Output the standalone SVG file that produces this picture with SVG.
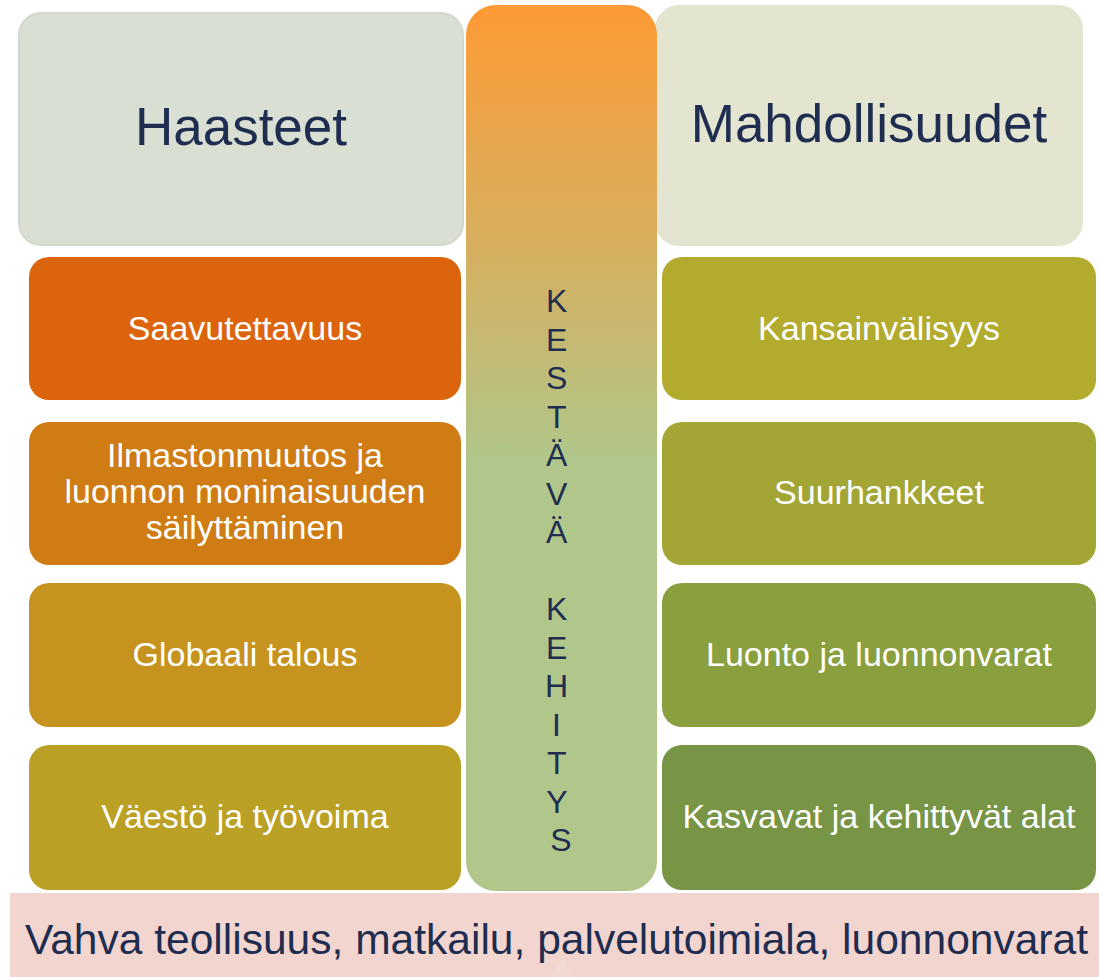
<svg xmlns="http://www.w3.org/2000/svg" width="1099" height="977" viewBox="0 0 1099 977">
<defs>
<linearGradient id="colGrad" gradientUnits="userSpaceOnUse" x1="0" y1="5" x2="0" y2="460">
<stop offset="0" stop-color="#fd9a35"/>
<stop offset="0.5" stop-color="#d9ae5c"/>
<stop offset="1" stop-color="#b0c68a"/>
</linearGradient>
<style>
.hdr{font-family:"Liberation Sans",Arial,sans-serif;font-size:53px;fill:#1f2d50;text-anchor:middle}
.lbl{font-family:"Liberation Sans",Arial,sans-serif;font-size:34px;fill:#ffffff;text-anchor:middle}
.col{font-family:"Liberation Sans",Arial,sans-serif;font-size:32px;fill:#1f2d50;text-anchor:middle}
.bot{font-family:"Liberation Sans",Arial,sans-serif;font-size:42.5px;fill:#1f2d50}
</style>
</defs>
<rect width="1099" height="977" fill="#ffffff"/>
<g id="bottom-bar">
<rect x="10" y="893" width="1089" height="84" fill="#f2d5cf"/>
<polygon points="562,959 550,977 574,977" fill="#ffffff" fill-opacity="0.1"/>
<text class="bot" x="25" y="954" textLength="1063" lengthAdjust="spacingAndGlyphs">Vahva teollisuus, matkailu, palvelutoimiala, luonnonvarat</text>
</g>
<g id="haasteet">
<rect x="19" y="13" width="444" height="232" rx="22" fill="#d9dfd3" stroke="#d2d9cc" stroke-width="2"/>
<text class="hdr" x="241" y="145">Haasteet</text>
</g>
<g id="mahdollisuudet">
<rect x="655" y="5" width="428" height="241" rx="24" fill="#e3e5d1"/>
<text class="hdr" x="869" y="142">Mahdollisuudet</text>
</g>
<g id="kestava-kehitys">
<rect x="466" y="5" width="191" height="886" rx="30" fill="url(#colGrad)"/>
<text class="col" x="561">
<tspan x="561" y="312">K</tspan>
<tspan x="561" y="351">E</tspan>
<tspan x="561" y="389">S</tspan>
<tspan x="561" y="428">T</tspan>
<tspan x="561" y="466">Ä</tspan>
<tspan x="561" y="505">V</tspan>
<tspan x="561" y="543">Ä</tspan>
<tspan x="561" y="620">K</tspan>
<tspan x="561" y="659">E</tspan>
<tspan x="561" y="697">H</tspan>
<tspan x="561" y="736">I</tspan>
<tspan x="561" y="774">T</tspan>
<tspan x="561" y="813">Y</tspan>
<tspan x="561" y="851">S</tspan>
</text>
</g>
<g id="saavutettavuus">
<rect x="29" y="257" width="432" height="143" rx="20" fill="#dc640c"/>
<text class="lbl" x="245" y="340">Saavutettavuus</text>
</g>
<g id="ilmastonmuutos">
<rect x="29" y="422" width="432" height="143" rx="20" fill="#d07c15"/>
<text class="lbl" x="245" y="467">Ilmastonmuutos ja</text>
<text class="lbl" x="245" y="503">luonnon moninaisuuden</text>
<text class="lbl" x="245" y="539">säilyttäminen</text>
</g>
<g id="globaali-talous">
<rect x="29" y="583" width="432" height="144" rx="20" fill="#c6931f"/>
<text class="lbl" x="245" y="666">Globaali talous</text>
</g>
<g id="vaesto">
<rect x="29" y="745" width="432" height="145" rx="20" fill="#bba026"/>
<text class="lbl" x="245" y="828">Väestö ja työvoima</text>
</g>
<g id="kansainvalisyys">
<rect x="662" y="257" width="434" height="143" rx="20" fill="#b2ab2e"/>
<text class="lbl" x="879" y="340">Kansainvälisyys</text>
</g>
<g id="suurhankkeet">
<rect x="662" y="422" width="434" height="143" rx="20" fill="#a3a635"/>
<text class="lbl" x="879" y="504">Suurhankkeet</text>
</g>
<g id="luonto">
<rect x="662" y="583" width="434" height="144" rx="20" fill="#8a9f3e"/>
<text class="lbl" x="879" y="666">Luonto ja luonnonvarat</text>
</g>
<g id="kasvavat">
<rect x="662" y="745" width="434" height="145" rx="20" fill="#789445"/>
<text class="lbl" x="879" y="828">Kasvavat ja kehittyvät alat</text>
</g>
<g id="connectors"/>
</svg>
